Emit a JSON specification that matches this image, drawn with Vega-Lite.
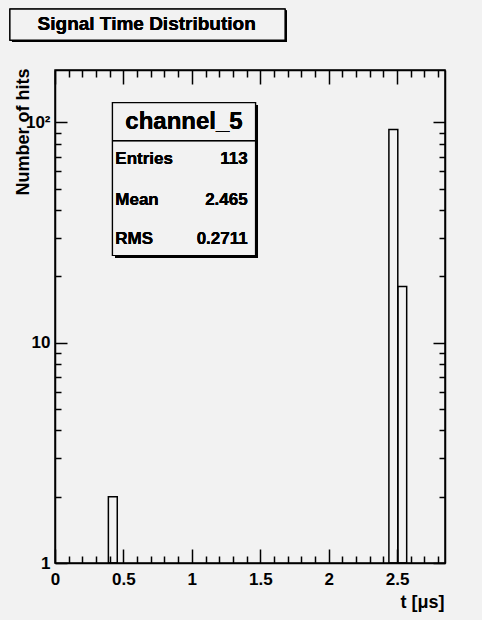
{
  "$schema": "https://vega.github.io/schema/vega-lite/v6.json",
  "width": 390,
  "height": 493,
  "autosize": {"type": "none"},
  "padding": {"left": 55, "top": 70, "right": 37, "bottom": 57},
  "background": "#f2f2f2",
  "config": {
    "view": {"stroke": "black", "strokeWidth": 1.5},
    "font": "Liberation Sans",
    "axis": {"domainColor": "black", "tickColor": "black", "labelColor": "black", "titleColor": "black", "grid": false, "labelFont": "Liberation Sans", "titleFont": "Liberation Sans"}
  },
  "data": {"values": [
    {"t0": 0.39, "t1": 0.455, "n": 2},
    {"t0": 2.44, "t1": 2.505, "n": 93},
    {"t0": 2.505, "t1": 2.57, "n": 18}
  ]},
  "resolve": {"axis": {"x": "independent", "y": "independent"}},
  "layer": [
    {
      "mark": {"type": "rect", "filled": false, "stroke": "black", "strokeWidth": 1.5},
      "encoding": {
        "x": {"field": "t0", "type": "quantitative", "scale": {"domain": [0, 2.85], "nice": false, "zero": false},
          "axis": {"orient": "bottom", "values": [0, 0.1, 0.2, 0.3, 0.4, 0.5, 0.6, 0.7, 0.8, 0.9, 1, 1.1, 1.2, 1.3, 1.4, 1.5, 1.6, 1.7, 1.8, 1.9, 2, 2.1, 2.2, 2.3, 2.4, 2.5, 2.6, 2.7, 2.8],
            "tickSize": {"condition": {"test": "abs(datum.value * 2 - round(datum.value * 2)) < 0.001", "value": -14}, "value": -7},
            "tickWidth": 1.5, "domain": true, "domainWidth": 1.5, "labelFontSize": 17, "labelFontWeight": "bold", "labelPadding": 22, "labelFlush": false, "labelOverlap": false, "format": "~g",
            "labelExpr": "abs(datum.value * 2 - round(datum.value * 2)) < 0.001 ? datum.label : ''",
            "title": "t [\u03bcs]", "titleFontSize": 18, "titleFontWeight": "bold", "titleAnchor": "end", "titleAlign": "right", "titleBaseline": "middle", "titleX": 389, "titleY": 39}},
        "x2": {"field": "t1"},
        "y": {"field": "n", "type": "quantitative", "scale": {"type": "log", "domain": [1, 173], "nice": false},
          "axis": {"orient": "left", "values": [1, 2, 3, 4, 5, 6, 7, 8, 9, 10, 20, 30, 40, 50, 60, 70, 80, 90, 100],
            "tickSize": {"condition": {"test": "datum.value == 1 || datum.value == 10 || datum.value == 100", "value": -12}, "value": -6},
            "tickWidth": 1.5, "domain": true, "domainWidth": 1.5, "labelFontSize": 17, "labelFontWeight": "bold", "labelPadding": 17, "labelFlush": false, "labelOverlap": false,
            "labelExpr": "datum.value == 100 ? '10\u00b2' : datum.value == 10 ? '10' : datum.value == 1 ? '1' : ''",
            "title": "Number of hits", "titleFontSize": 18, "titleFontWeight": "bold", "titleAngle": -90, "titleAlign": "right", "titleBaseline": "middle", "titleX": -32, "titleY": -2}},
        "y2": {"datum": 1}
      }
    },
    {
      "mark": {"type": "point", "opacity": 0},
      "encoding": {
        "x": {"field": "t0", "type": "quantitative", "axis": {"orient": "top", "values": [0, 0.1, 0.2, 0.3, 0.4, 0.5, 0.6, 0.7, 0.8, 0.9, 1, 1.1, 1.2, 1.3, 1.4, 1.5, 1.6, 1.7, 1.8, 1.9, 2, 2.1, 2.2, 2.3, 2.4, 2.5, 2.6, 2.7, 2.8],
          "tickSize": {"condition": {"test": "abs(datum.value * 2 - round(datum.value * 2)) < 0.001", "value": -14}, "value": -7},
          "labels": false, "domain": true, "domainWidth": 1.5, "tickWidth": 1.5, "title": null}},
        "y": {"field": "n", "type": "quantitative", "axis": {"orient": "right", "values": [1, 2, 3, 4, 5, 6, 7, 8, 9, 10, 20, 30, 40, 50, 60, 70, 80, 90, 100],
          "tickSize": {"condition": {"test": "datum.value == 1 || datum.value == 10 || datum.value == 100", "value": -12}, "value": -6},
          "labels": false, "domain": true, "domainWidth": 1.5, "tickWidth": 1.5, "title": null}}
      }
    },
    {
      "mark": {"type": "rect", "fill": "black"},
      "encoding": {
        "x": {"datum": 0.4385, "type": "quantitative", "axis": null}, "x2": {"datum": 1.4835},
        "y": {"datum": 119.95, "type": "quantitative", "axis": null}, "y2": {"datum": 24.24}
      }
    },
    {
      "mark": {"type": "rect", "fill": "#f2f2f2", "stroke": "black", "strokeWidth": 1.2},
      "encoding": {
        "x": {"datum": 0.4202, "type": "quantitative", "axis": null}, "x2": {"datum": 1.4652},
        "y": {"datum": 123.1, "type": "quantitative", "axis": null}, "y2": {"datum": 24.88}
      }
    },
    {
      "mark": {"type": "rule", "stroke": "black", "strokeWidth": 1.2},
      "encoding": {
        "x": {"datum": 0.4202, "type": "quantitative", "axis": null}, "x2": {"datum": 1.4652},
        "y": {"datum": 82.6, "type": "quantitative", "axis": null}
      }
    },
    {
      "mark": {"type": "text", "text": "channel_5", "font": "Liberation Sans", "fontWeight": "bold", "fontSize": 24, "align": "center", "baseline": "middle", "color": "black"},
      "encoding": {"x": {"datum": 0.9427, "type": "quantitative", "axis": null}, "y": {"datum": 100.9, "type": "quantitative", "axis": null}}
    },
    {
      "mark": {"type": "text", "text": "Entries", "font": "Liberation Sans", "fontWeight": "bold", "fontSize": 17, "align": "left", "baseline": "middle", "color": "black"},
      "encoding": {"x": {"datum": 0.4406, "type": "quantitative", "axis": null}, "y": {"datum": 68.2, "type": "quantitative", "axis": null}}
    },
    {
      "mark": {"type": "text", "text": "Mean", "font": "Liberation Sans", "fontWeight": "bold", "fontSize": 17, "align": "left", "baseline": "middle", "color": "black"},
      "encoding": {"x": {"datum": 0.4406, "type": "quantitative", "axis": null}, "y": {"datum": 44.4, "type": "quantitative", "axis": null}}
    },
    {
      "mark": {"type": "text", "text": "RMS", "font": "Liberation Sans", "fontWeight": "bold", "fontSize": 17, "align": "left", "baseline": "middle", "color": "black"},
      "encoding": {"x": {"datum": 0.4406, "type": "quantitative", "axis": null}, "y": {"datum": 29.56, "type": "quantitative", "axis": null}}
    },
    {
      "mark": {"type": "text", "text": "113", "font": "Liberation Sans", "fontWeight": "bold", "fontSize": 17, "align": "right", "baseline": "middle", "color": "black"},
      "encoding": {"x": {"datum": 1.4082, "type": "quantitative", "axis": null}, "y": {"datum": 68.2, "type": "quantitative", "axis": null}}
    },
    {
      "mark": {"type": "text", "text": "2.465", "font": "Liberation Sans", "fontWeight": "bold", "fontSize": 17, "align": "right", "baseline": "middle", "color": "black"},
      "encoding": {"x": {"datum": 1.4082, "type": "quantitative", "axis": null}, "y": {"datum": 44.4, "type": "quantitative", "axis": null}}
    },
    {
      "mark": {"type": "text", "text": "0.2711", "font": "Liberation Sans", "fontWeight": "bold", "fontSize": 17, "align": "right", "baseline": "middle", "color": "black"},
      "encoding": {"x": {"datum": 1.4082, "type": "quantitative", "axis": null}, "y": {"datum": 29.56, "type": "quantitative", "axis": null}}
    },
    {
      "mark": {"type": "rect", "fill": "black"},
      "encoding": {
        "x": {"datum": -0.3143, "type": "quantitative", "axis": null}, "x2": {"datum": 1.6954},
        "y": {"datum": 322, "type": "quantitative", "axis": null}, "y2": {"datum": 231.7}
      }
    },
    {
      "mark": {"type": "rect", "fill": "#f2f2f2", "stroke": "black", "strokeWidth": 1.2},
      "encoding": {
        "x": {"datum": -0.3289, "type": "quantitative", "axis": null}, "x2": {"datum": 1.6808},
        "y": {"datum": 327.2, "type": "quantitative", "axis": null}, "y2": {"datum": 236.6}
      }
    },
    {
      "mark": {"type": "text", "text": "Signal Time Distribution", "font": "Liberation Sans", "fontWeight": "bold", "fontSize": 19, "align": "center", "baseline": "middle", "color": "black"},
      "encoding": {"x": {"datum": 0.6698, "type": "quantitative", "axis": null}, "y": {"datum": 280, "type": "quantitative", "axis": null}}
    }
  ]
}
